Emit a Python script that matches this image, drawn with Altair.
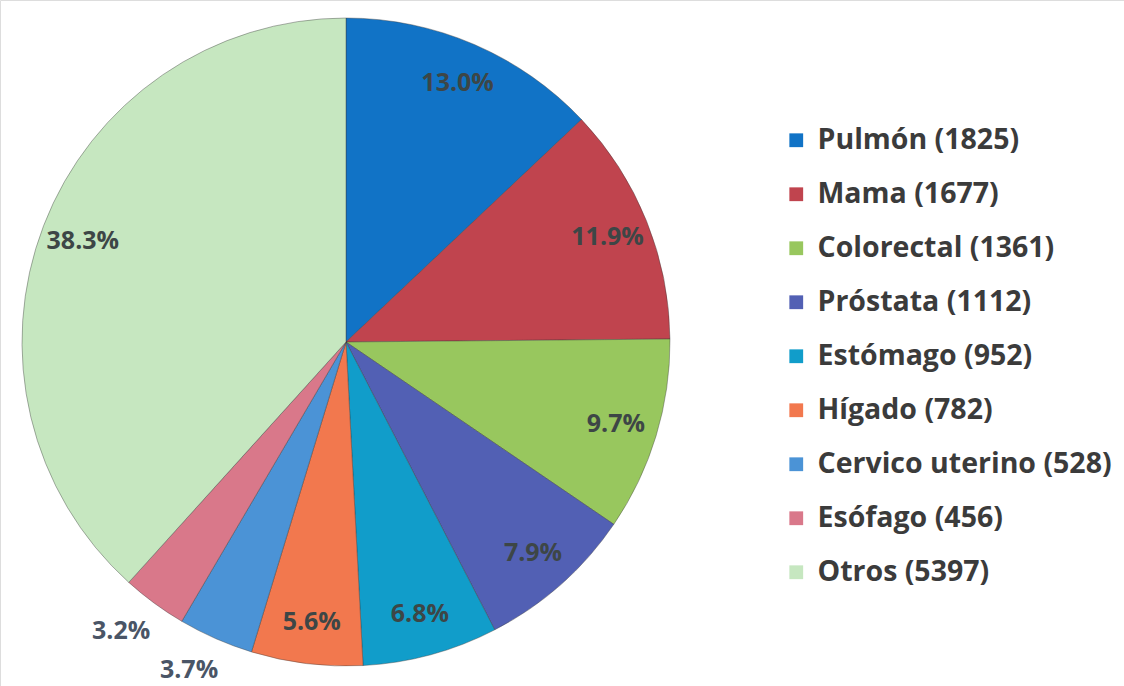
import altair as alt
import pandas as pd
import math

categories = ["Pulmón", "Mama", "Colorectal", "Próstata", "Estómago", "Hígado",
              "Cervico uterino", "Esófago", "Otros"]
counts = [1825, 1677, 1361, 1112, 952, 782, 528, 456, 5397]
colors = ["#1173c6", "#c0444e", "#98c75e", "#5260b4", "#119dca", "#f2784e",
          "#4b93d6", "#d9788a", "#c6e7c0"]

legend_labels = [f"{c} ({n})" for c, n in zip(categories, counts)]
df = pd.DataFrame({"cat": categories, "n": counts, "label": legend_labels,
                   "idx": list(range(len(categories)))})

CX, CY, R = 346, 342, 324
TWO_PI = 2 * math.pi
theta_scale = alt.Scale(domain=[0, 1], range=[0, TWO_PI])

base = alt.Chart(df).transform_joinaggregate(
    total="sum(n)"
).transform_window(
    cum="sum(n)", sort=[alt.SortField("idx")]
).transform_calculate(
    share="datum.n / datum.total",
    start="(datum.cum - datum.n) / datum.total",
    end="datum.cum / datum.total",
    mid="(datum.cum - datum.n / 2) / datum.total",
)

arcs = base.mark_arc(
    outerRadius=R, stroke="#3a3a3a", strokeWidth=0.8, strokeOpacity=0.5
).encode(
    x=alt.value(CX), y=alt.value(CY),
    theta=alt.Theta("start:Q", scale=theta_scale, stack=None),
    theta2="end:Q",
    color=alt.Color(
        "label:N",
        sort=legend_labels,
        scale=alt.Scale(domain=legend_labels, range=colors),
        legend=alt.Legend(
            title=None, orient="none", legendX=782, legendY=126,
            symbolType="square", symbolSize=190, symbolStrokeWidth=0,
            labelFont="Open Sans", labelFontSize=28.5, labelFontWeight="bold",
            labelColor="#3b3b3b", labelLimit=500, rowPadding=25,
            labelOffset=7,
        ),
    ),
)

lab_base = base.encode(
    x=alt.value(CX), y=alt.value(CY),
    theta=alt.Theta("mid:Q", stack=None, scale=theta_scale),
    text=alt.Text("share:Q", format=".1%"),
)

inside = lab_base.transform_filter("datum.share >= 0.04").mark_text(
    radius=282, font="Open Sans", fontSize=25, fontWeight="bold",
    color="#3d4646")
outside = lab_base.transform_filter("datum.share < 0.04").mark_text(
    radius=358, dx=-13, font="Open Sans", fontSize=25, fontWeight="bold",
    color="#4a5566")

chart = alt.layer(arcs, inside, outside).properties(
    width=1124, height=686,
    autosize=alt.AutoSizeParams(type="none"),
    padding=0,
).configure_view(stroke=None).configure(background="white")

chart.save("out.html", embed_options={"renderer": "svg", "actions": False})
